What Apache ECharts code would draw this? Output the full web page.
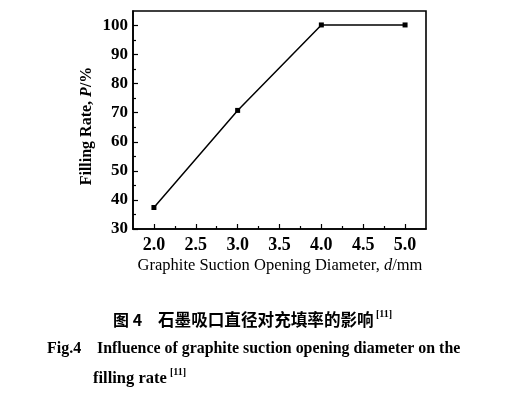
<!DOCTYPE html>
<html>
<head>
<meta charset="utf-8">
<script src="https://cdn.jsdelivr.net/npm/echarts@6/dist/echarts.min.js"></script>
<style>
html,body{margin:0;padding:0;background:#fff;}
#c{width:512px;height:397px;}
</style>
</head>
<body>
<div id="c"></div>
<script>
// Data
const diameters = [2.0, 3.0, 4.0, 5.0];
const fillingRates = [37.4, 70.8, 100.2, 100.2];
const xTickLabels = [2.0, 2.5, 3.0, 3.5, 4.0, 4.5, 5.0];
const xMinorTicks = [2.25, 2.75, 3.25, 3.75, 4.25, 4.75];
const yTickLabels = [30, 40, 50, 60, 70, 80, 90, 100];
const yMinorTicks = [35, 45, 55, 65, 75, 85, 95];
const xTitle = 'Graphite Suction Opening Diameter, ';
const yTitle = 'Filling Rate, ';

const chart = echarts.init(document.getElementById('c'));
const serif = '"Liberation Serif", "Times New Roman", serif';
const cjk = '"Noto Sans CJK SC", sans-serif';
const axisBase = {
  axisLine: {show: true, onZero: false, lineStyle: {color: '#000', width: 1.6}},
  splitLine: {show: false}
};
chart.setOption({
  animation: false,
  backgroundColor: '#fff',
  grid: {left: 133, top: 11, right: 86, bottom: 168, show: true, borderColor: '#000', borderWidth: 1.6, backgroundColor: 'transparent'},
  xAxis: [
    Object.assign({}, axisBase, {
      type: 'value', min: 1.75, max: 5.25, position: 'bottom',
      axisTick: {show: true, inside: true, length: 5, lineStyle: {color: '#000', width: 1.2}, customValues: xTickLabels},
      axisLabel: {show: true, customValues: xTickLabels, formatter: v => v.toFixed(1), color: '#000', fontFamily: serif, fontWeight: 'bold', fontSize: 18, margin: 7}
    }),
    Object.assign({}, axisBase, {
      type: 'value', min: 1.75, max: 5.25, position: 'bottom',
      axisLine: {show: false},
      axisTick: {show: true, inside: true, length: 3, lineStyle: {color: '#000', width: 1.2}, customValues: xMinorTicks},
      axisLabel: {show: false}
    })
  ],
  yAxis: [
    Object.assign({}, axisBase, {
      type: 'value', min: 30, max: 105, position: 'left',
      axisTick: {show: true, inside: true, length: 5, lineStyle: {color: '#000', width: 1.2}, customValues: yTickLabels},
      axisLabel: {show: true, customValues: yTickLabels, color: '#000', fontFamily: serif, fontWeight: 'bold', fontSize: 17, margin: 5}
    }),
    Object.assign({}, axisBase, {
      type: 'value', min: 30, max: 105, position: 'left',
      axisLine: {show: false},
      axisTick: {show: true, inside: true, length: 3, lineStyle: {color: '#000', width: 1.2}, customValues: yMinorTicks},
      axisLabel: {show: false}
    })
  ],
  series: [{
    type: 'line',
    data: diameters.map((d, i) => [d, fillingRates[i]]),
    symbol: 'rect', symbolSize: 5,
    itemStyle: {color: '#000'},
    lineStyle: {color: '#000', width: 1.5}
  }],
  graphic: [
    {
      type: 'text', x: 280, y: 266,
      style: {
        text: '{n|' + xTitle + '}{i|d}{n|/mm}',
        align: 'center', verticalAlign: 'middle',
        rich: {
          n: {fontFamily: serif, fontSize: 16.5, fill: '#000'},
          i: {fontFamily: serif, fontSize: 16.5, fontStyle: 'italic', fill: '#000'}
        }
      }
    },
    {
      type: 'text', x: 87, y: 126, rotation: Math.PI / 2,
      style: {
        text: '{n|' + yTitle + '}{i|P}{n|/%}',
        align: 'center', verticalAlign: 'middle',
        rich: {
          n: {fontFamily: serif, fontSize: 16, fontWeight: 'bold', fill: '#000'},
          i: {fontFamily: serif, fontSize: 16, fontWeight: 'bold', fontStyle: 'italic', fill: '#000'}
        }
      }
    },
    {
      type: 'text', x: 113, y: 320,
      style: {text: '图 4', fontFamily: cjk, fontSize: 16, fontWeight: 'bold', fill: '#000', verticalAlign: 'middle'}
    },
    {
      type: 'text', x: 158, y: 320,
      style: {text: '石墨吸口直径对充填率的影响', fontFamily: cjk, fontSize: 16.6, fontWeight: 'bold', fill: '#000', verticalAlign: 'middle'}
    },
    {
      type: 'text', x: 376, y: 314,
      style: {text: '[11]', fontFamily: serif, fontSize: 10, fontWeight: 'bold', fill: '#000', verticalAlign: 'middle'}
    },
    {
      type: 'text', x: 47, y: 349,
      style: {text: 'Fig.4', fontFamily: serif, fontSize: 16, fontWeight: 'bold', fill: '#000', verticalAlign: 'middle'}
    },
    {
      type: 'text', x: 97, y: 349,
      style: {text: 'Influence of graphite suction opening diameter on the', fontFamily: serif, fontSize: 15.9, fontWeight: 'bold', fill: '#000', verticalAlign: 'middle'}
    },
    {
      type: 'text', x: 93, y: 379,
      style: {text: 'filling rate', fontFamily: serif, fontSize: 16.5, fontWeight: 'bold', fill: '#000', verticalAlign: 'middle'}
    },
    {
      type: 'text', x: 170, y: 372,
      style: {text: '[11]', fontFamily: serif, fontSize: 10, fontWeight: 'bold', fill: '#000', verticalAlign: 'middle'}
    }
  ]
});
</script>
</body>
</html>
